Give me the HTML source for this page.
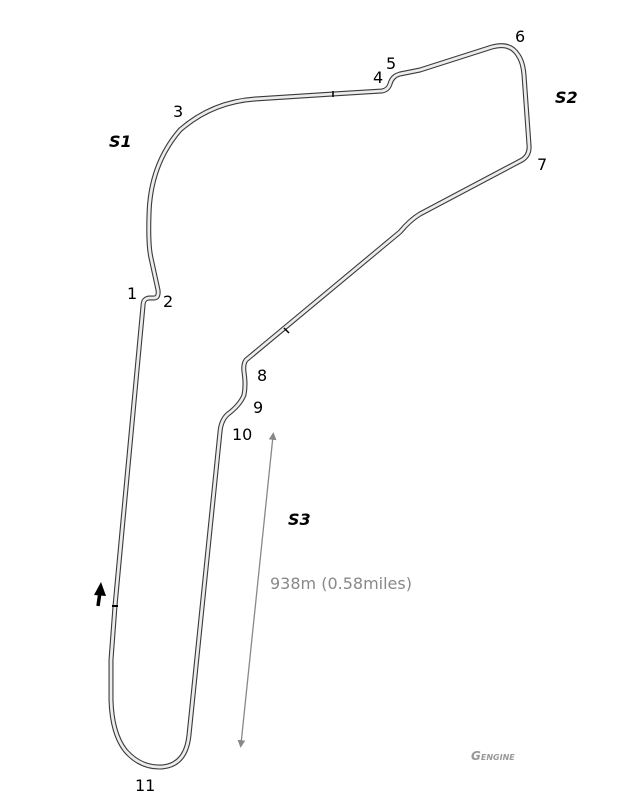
<!DOCTYPE html>
<html><head><meta charset="utf-8"><style>
html,body{margin:0;padding:0;background:#fff;}
svg{display:block;}
text{font-family:"DejaVu Sans","Liberation Sans",sans-serif;}
</style></head><body>
<svg width="631" height="810" viewBox="0 0 631 810" xmlns="http://www.w3.org/2000/svg">
<defs>
<marker id="ah" viewBox="0 0 10 10" refX="5" refY="5" markerWidth="6" markerHeight="6" orient="auto-start-reverse"><path d="M0,0 L10,5 L0,10 z" fill="#888"/></marker>
</defs>
<g fill="none" stroke-linejoin="round" stroke-linecap="round">
<path d="M115,606 L143,306 Q143,298 150,298 L154,298 Q159,298 158,290 L151,258 Q148,245 149,215 Q150,165 180,130 Q212,102 255,99 L333,94 L382,91 Q388,90 390,84 Q392,76 400,74 Q410,72 420,70 L492,47 Q510,42 518,55 Q523,62 524,75 L529,145 Q530,155 522,160 L420,214 Q410,220 400,232 L246,360 Q243,364 244,372 Q246,385 244,395 Q240,405 228,414 Q221,420 220,432 L189,735 Q186,765 162,767 Q140,768 125,750 Q112,733 111,700 L111,660 Z" stroke="#3a3a3a" stroke-width="5"/>
<path d="M115,606 L143,306 Q143,298 150,298 L154,298 Q159,298 158,290 L151,258 Q148,245 149,215 Q150,165 180,130 Q212,102 255,99 L333,94 L382,91 Q388,90 390,84 Q392,76 400,74 Q410,72 420,70 L492,47 Q510,42 518,55 Q523,62 524,75 L529,145 Q530,155 522,160 L420,214 Q410,220 400,232 L246,360 Q243,364 244,372 Q246,385 244,395 Q240,405 228,414 Q221,420 220,432 L189,735 Q186,765 162,767 Q140,768 125,750 Q112,733 111,700 L111,660 Z" stroke="#ececec" stroke-width="2.8"/>
</g>
<line x1="112" y1="606" x2="118" y2="606" stroke="#000" stroke-width="2"/>
<line x1="333" y1="91" x2="333" y2="97" stroke="#000" stroke-width="1.5"/>
<line x1="284" y1="328" x2="289" y2="333" stroke="#000" stroke-width="1.5"/>
<line x1="273" y1="436" x2="241" y2="744" stroke="#888" stroke-width="1.3" marker-start="url(#ah)" marker-end="url(#ah)"/>
<path d="M98,606 L100,592" stroke="#000" stroke-width="3.5"/>
<path d="M94,595 L101,582 L106,596 z" fill="#000"/>
<g font-size="16" fill="#000">
<text x="127" y="299">1</text>
<text x="163" y="307">2</text>
<text x="173" y="117">3</text>
<text x="373" y="83">4</text>
<text x="386" y="69">5</text>
<text x="515" y="42">6</text>
<text x="537" y="170">7</text>
<text x="257" y="381">8</text>
<text x="253" y="413">9</text>
<text x="232" y="440">10</text>
<text x="135" y="791">11</text>
</g>
<g font-size="16" font-weight="bold" font-style="italic" fill="#000">
<text x="109" y="147">S1</text>
<text x="555" y="103">S2</text>
<text x="288" y="525">S3</text>
</g>
<text x="270" y="589" font-size="16" fill="#888">938m (0.58miles)</text>
<text x="471" y="760" font-size="12" font-weight="bold" font-style="italic" fill="#999">G<tspan font-size="8">ENGINE</tspan></text>
</svg>
</body></html>
